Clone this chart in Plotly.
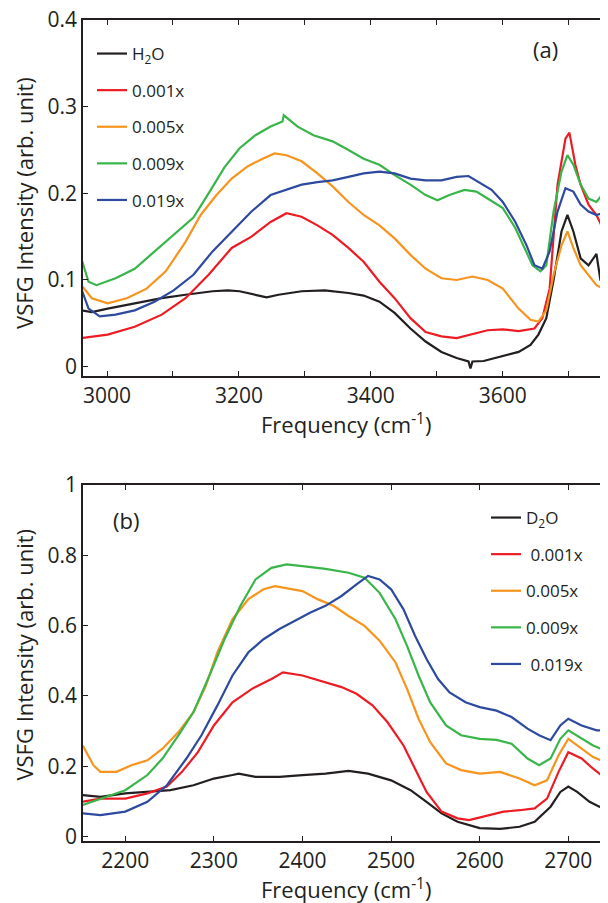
import plotly.graph_objects as go
from plotly.subplots import make_subplots

# ---- panel (a): H2O region ----
a_h2o_x = [2961, 2977, 3001, 3042, 3083, 3119, 3160, 3183, 3201, 3230, 3242, 3260, 3295, 3330,
           3366, 3389, 3413, 3436, 3460, 3483, 3507, 3530, 3548, 3551, 3554, 3571, 3600, 3624,
           3642, 3654, 3666, 3677, 3689, 3698, 3707, 3718, 3730, 3742, 3748, 3759]
a_h2o_y = [0.065, 0.063, 0.067, 0.073, 0.079, 0.083, 0.087, 0.088, 0.087, 0.082, 0.080, 0.083,
           0.087, 0.088, 0.085, 0.082, 0.075, 0.062, 0.044, 0.029, 0.017, 0.010, 0.006, -0.002,
           0.006, 0.0065, 0.012, 0.017, 0.025, 0.037, 0.056, 0.100, 0.156, 0.175, 0.156, 0.125,
           0.117, 0.130, 0.100, 0.090]

a_001_x = [2961, 3001, 3042, 3083, 3119, 3154, 3189, 3219, 3248, 3272, 3295, 3319, 3342, 3366,
           3389, 3413, 3436, 3460, 3483, 3507, 3530, 3554, 3577, 3600, 3624, 3648, 3660, 3671,
           3683, 3695, 3701, 3710, 3718, 3730, 3742, 3759]
a_001_y = [0.033, 0.037, 0.046, 0.060, 0.079, 0.106, 0.137, 0.150, 0.167, 0.177, 0.173, 0.163,
           0.152, 0.137, 0.121, 0.098, 0.079, 0.056, 0.040, 0.035, 0.033, 0.038, 0.042, 0.043,
           0.041, 0.044, 0.056, 0.090, 0.210, 0.263, 0.270, 0.233, 0.210, 0.187, 0.175, 0.148]

a_005_x = [2961, 2977, 3001, 3030, 3060, 3089, 3119, 3142, 3166, 3189, 3213, 3236, 3254, 3272,
           3295, 3319, 3342, 3366, 3389, 3413, 3436, 3460, 3483, 3507, 3530, 3554, 3577, 3600,
           3624, 3642, 3654, 3666, 3677, 3689, 3698, 3707, 3718, 3730, 3742, 3759]
a_005_y = [0.094, 0.079, 0.073, 0.079, 0.090, 0.110, 0.144, 0.175, 0.198, 0.217, 0.231, 0.240,
           0.246, 0.244, 0.237, 0.223, 0.208, 0.190, 0.175, 0.163, 0.148, 0.129, 0.113, 0.102,
           0.100, 0.104, 0.100, 0.090, 0.067, 0.054, 0.052, 0.065, 0.106, 0.140, 0.156, 0.137,
           0.117, 0.106, 0.094, 0.087]

a_009_x = [2961, 2972, 2984, 3013, 3042, 3072, 3101, 3131, 3154, 3178, 3201, 3225, 3248, 3266,
           3268, 3289, 3313, 3342, 3366, 3389, 3413, 3436, 3460, 3483, 3501, 3519, 3542, 3560,
           3577, 3600, 3619, 3636, 3645, 3657, 3666, 3677, 3689, 3698, 3707, 3718, 3730, 3742,
           3759]
a_009_y = [0.125, 0.098, 0.094, 0.102, 0.113, 0.133, 0.152, 0.172, 0.200, 0.230, 0.252, 0.267,
           0.277, 0.283, 0.290, 0.277, 0.267, 0.260, 0.250, 0.240, 0.233, 0.221, 0.210, 0.198,
           0.192, 0.198, 0.204, 0.202, 0.194, 0.183, 0.160, 0.133, 0.117, 0.110, 0.117, 0.179,
           0.225, 0.244, 0.233, 0.210, 0.194, 0.190, 0.206]

a_019_x = [2961, 2972, 2989, 3013, 3042, 3072, 3101, 3131, 3160, 3189, 3219, 3248, 3272, 3295,
           3319, 3342, 3366, 3389, 3413, 3436, 3460, 3483, 3507, 3530, 3548, 3566, 3583, 3600,
           3619, 3636, 3648, 3660, 3671, 3683, 3695, 3707, 3718, 3730, 3742, 3759]
a_019_y = [0.090, 0.067, 0.058, 0.060, 0.065, 0.075, 0.088, 0.106, 0.133, 0.156, 0.179, 0.198,
           0.204, 0.210, 0.213, 0.215, 0.219, 0.223, 0.225, 0.223, 0.217, 0.215, 0.215, 0.219,
           0.220, 0.212, 0.204, 0.190, 0.167, 0.140, 0.117, 0.113, 0.133, 0.179, 0.206, 0.202,
           0.187, 0.179, 0.175, 0.179]

# ---- panel (b): D2O region ----
b_d2o_x = [2152, 2172, 2200, 2225, 2251, 2277, 2300, 2321, 2328, 2347, 2374, 2400, 2426, 2452,
           2474, 2500, 2522, 2540, 2557, 2575, 2600, 2623, 2645, 2662, 2680, 2691, 2700, 2710,
           2724, 2735, 2745]
b_d2o_y = [0.118, 0.113, 0.123, 0.127, 0.132, 0.146, 0.165, 0.175, 0.179, 0.170, 0.170, 0.175,
           0.179, 0.187, 0.179, 0.160, 0.132, 0.099, 0.066, 0.042, 0.024, 0.022, 0.028, 0.042,
           0.085, 0.127, 0.142, 0.127, 0.099, 0.085, 0.080]

b_001_x = [2152, 2172, 2200, 2225, 2247, 2264, 2282, 2300, 2321, 2343, 2365, 2378, 2400, 2426,
           2444, 2461, 2479, 2496, 2514, 2527, 2540, 2557, 2575, 2588, 2610, 2627, 2645, 2662,
           2676, 2689, 2700, 2715, 2728, 2745]
b_001_y = [0.099, 0.108, 0.108, 0.123, 0.142, 0.184, 0.240, 0.316, 0.382, 0.420, 0.448, 0.467,
           0.458, 0.439, 0.425, 0.406, 0.373, 0.325, 0.259, 0.193, 0.127, 0.071, 0.052, 0.047,
           0.061, 0.071, 0.075, 0.080, 0.108, 0.184, 0.240, 0.222, 0.193, 0.160]

b_005_x = [2152, 2164, 2172, 2190, 2207, 2225, 2242, 2260, 2277, 2291, 2304, 2321, 2339, 2356,
           2369, 2387, 2400, 2417, 2435, 2452, 2470, 2487, 2505, 2518, 2531, 2544, 2562, 2579,
           2600, 2623, 2645, 2662, 2676, 2689, 2700, 2715, 2728, 2745]
b_005_y = [0.259, 0.203, 0.184, 0.184, 0.203, 0.217, 0.250, 0.297, 0.354, 0.429, 0.524, 0.618,
           0.675, 0.703, 0.712, 0.703, 0.698, 0.675, 0.656, 0.627, 0.599, 0.557, 0.495, 0.420,
           0.335, 0.269, 0.208, 0.189, 0.179, 0.184, 0.165, 0.146, 0.160, 0.231, 0.278, 0.250,
           0.226, 0.208]

b_009_x = [2152, 2172, 2200, 2225, 2242, 2260, 2277, 2295, 2312, 2330, 2347, 2365, 2382, 2400,
           2426, 2452, 2470, 2487, 2505, 2518, 2531, 2544, 2562, 2579, 2600, 2619, 2636, 2654,
           2667, 2680, 2691, 2700, 2715, 2728, 2745]
b_009_y = [0.090, 0.108, 0.132, 0.175, 0.222, 0.288, 0.354, 0.458, 0.561, 0.656, 0.731, 0.764,
           0.774, 0.769, 0.761, 0.750, 0.736, 0.693, 0.618, 0.542, 0.458, 0.382, 0.316, 0.288,
           0.278, 0.275, 0.264, 0.222, 0.203, 0.222, 0.278, 0.302, 0.278, 0.259, 0.241]

b_019_x = [2152, 2172, 2200, 2225, 2247, 2269, 2286, 2304, 2321, 2339, 2356, 2374, 2391, 2409,
           2426, 2444, 2461, 2474, 2487, 2500, 2514, 2527, 2540, 2553, 2566, 2584, 2600, 2619,
           2636, 2654, 2667, 2680, 2691, 2700, 2715, 2732, 2745]
b_019_y = [0.066, 0.061, 0.071, 0.099, 0.146, 0.222, 0.288, 0.373, 0.458, 0.524, 0.561, 0.590,
           0.613, 0.637, 0.656, 0.684, 0.717, 0.741, 0.731, 0.703, 0.646, 0.571, 0.505, 0.448,
           0.410, 0.382, 0.368, 0.358, 0.340, 0.307, 0.288, 0.274, 0.316, 0.335, 0.316, 0.302,
           0.302]

names_a = ['H<sub>2</sub>O', '0.001x', '0.005x', '0.009x', '0.019x']
names_b = ['D<sub>2</sub>O', ' 0.001x', '0.005x', '0.009x', ' 0.019x']
colors = ['#231f20', '#ed1c24', '#f7941d', '#39b54a', '#2e4a9e']

FONT = 'Open Sans'
INK = '#231f20'

# page has an 8px body margin, so the figure is 8px smaller than the window
W, H = 600, 895
ML, MT, MB = 75, 12, 61.5


def paper_x(px):
    return (px - ML) / (W - ML)


def paper_y(py):
    return (H - MB - py) / (H - MT - MB)


fig = make_subplots(rows=2, cols=1, vertical_spacing=0.1323)

series_a = [(a_h2o_x, a_h2o_y), (a_001_x, a_001_y), (a_005_x, a_005_y),
            (a_009_x, a_009_y), (a_019_x, a_019_y)]
series_b = [(b_d2o_x, b_d2o_y), (b_001_x, b_001_y), (b_005_x, b_005_y),
            (b_009_x, b_009_y), (b_019_x, b_019_y)]

for i, (xs, ys) in enumerate(series_a):
    fig.add_trace(go.Scatter(x=xs, y=ys, mode='lines', name=names_a[i],
                             line=dict(color=colors[i], width=2.2),
                             legend='legend', legendgroup='a%d' % i), row=1, col=1)
for i, (xs, ys) in enumerate(series_b):
    fig.add_trace(go.Scatter(x=xs, y=ys, mode='lines', name=names_b[i],
                             line=dict(color=colors[i], width=2.2),
                             legend='legend2', legendgroup='b%d' % i), row=2, col=1)

axis_style = dict(showline=True, linecolor=INK, linewidth=1.5, mirror='ticks',
                  ticks='inside', ticklen=5, tickcolor=INK, tickwidth=1,
                  showgrid=False, zeroline=False, tickangle=0,
                  tickfont=dict(size=21, color=INK))

fig.update_xaxes(axis_style)
fig.update_yaxes(axis_style)

fig.update_xaxes(range=[2963.6, 3759.5], tickvals=[3000, 3100, 3200, 3300, 3400, 3500, 3600, 3700],
                 ticktext=['3000', '', '3200', '', '3400', '', '3600', ''], row=1, col=1)
fig.update_yaxes(range=[-0.011, 0.4], tickvals=[0, 0.1, 0.2, 0.3, 0.4],
                 ticktext=['0', '0.1', '0.2', '0.3', '0.4'], row=1, col=1)
fig.update_xaxes(range=[2152.3, 2744.8], tickvals=[2200, 2300, 2400, 2500, 2600, 2700],
                 row=2, col=1)
fig.update_yaxes(range=[-0.0125, 1.0], tickvals=[0, 0.2, 0.4, 0.6, 0.8, 1.0],
                 ticktext=['0', '0.2', '0.4', '0.6', '0.8', '1'], row=2, col=1)

title_font = dict(size=22, color=INK)
for title_y in [416, 881]:
    fig.add_annotation(text='Frequency (cm<sup>-1</sup>)', xref='paper', yref='paper',
                       x=0.5, y=paper_y(title_y), yanchor='middle', showarrow=False,
                       font=title_font)
for title_y in [195, 647]:
    fig.add_annotation(text='VSFG Intensity (arb. unit)', xref='paper', yref='paper',
                       x=paper_x(16), y=paper_y(title_y), xanchor='center', yanchor='middle',
                       textangle=-90, showarrow=False, font=title_font)

fig.add_annotation(text='(a)', xref='paper', yref='paper', x=paper_x(537), y=paper_y(41),
                   xanchor='center', yanchor='middle', showarrow=False,
                   font=dict(size=22, color=INK))
fig.add_annotation(text='(b)', xref='paper', yref='paper', x=paper_x(118), y=paper_y(512),
                   xanchor='center', yanchor='middle', showarrow=False,
                   font=dict(size=22, color=INK))

legend_style = dict(bgcolor='rgba(0,0,0,0)', borderwidth=0, font=dict(size=17, color=INK),
                    tracegroupgap=11.5, xanchor='left', yanchor='top',
                    xref='container', yref='container')

fig.update_layout(
    width=W, height=H,
    margin=dict(l=ML, r=0, t=MT, b=MB, autoexpand=False),
    plot_bgcolor='white', paper_bgcolor='white',
    font=dict(family=FONT, color=INK),
    showlegend=True,
    legend=dict(legend_style, x=84 / W, y=1 - 28 / H),
    legend2=dict(legend_style, x=478 / W, y=1 - 492 / H),
)

fig.write_html("out.html")
